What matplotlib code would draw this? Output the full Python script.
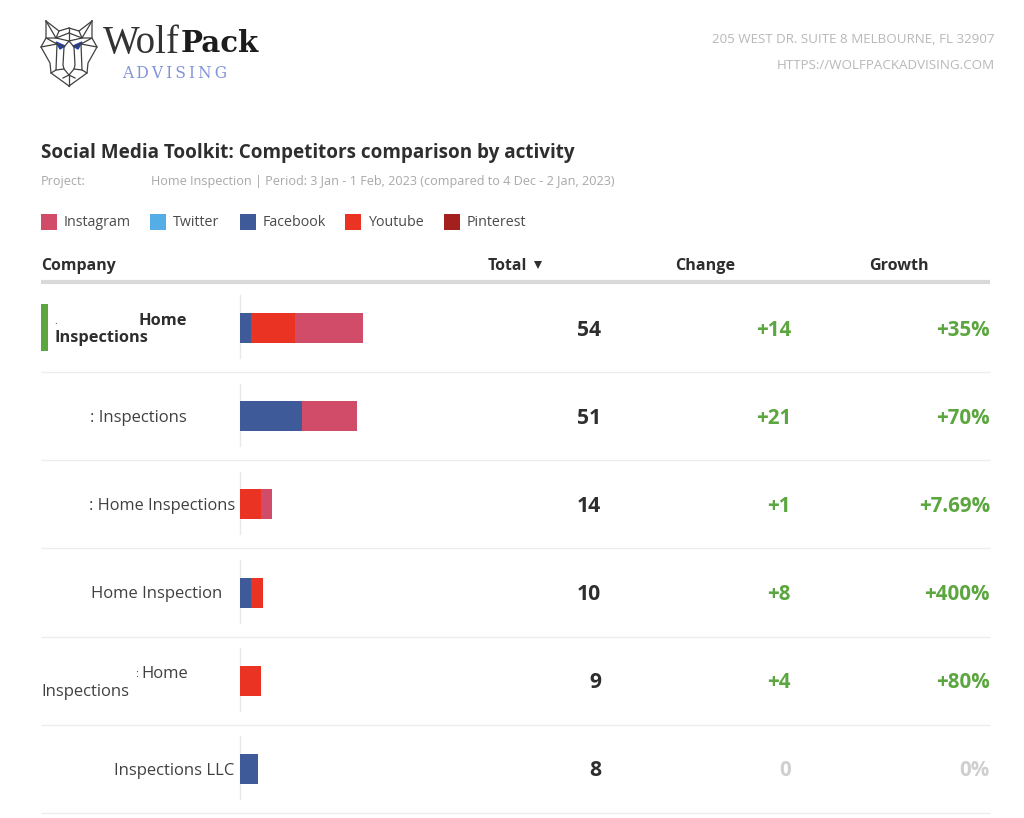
import matplotlib
matplotlib.use("Agg")
import matplotlib.pyplot as plt
from matplotlib.patches import Rectangle, Polygon

plt.rcParams['font.family'] = ['Open Sans', 'DejaVu Sans']

# Data
series = ["Instagram", "Twitter", "Facebook", "Youtube", "Pinterest"]
colors = ["#d14c68", "#55ade6", "#3f5a98", "#ea3323", "#a3201f"]
facebook = [5, 27, 0, 5, 0, 8]
youtube = [19, 0, 9, 5, 9, 0]
instagram = [30, 24, 5, 0, 0, 0]
totals = ["54", "51", "14", "10", "9", "8"]
changes = ["+14", "+21", "+1", "+8", "+4", "0"]
growth = ["+35%", "+70%", "+7.69%", "+400%", "+80%", "0%"]

DARK = "#2e2e2e"
GREEN = "#5ca640"
ZERO = "#cfcfcf"

fig = plt.figure(figsize=(10.24, 8.18), dpi=100)
ax = fig.add_axes([0, 0, 1, 1])
ax.set_xlim(0, 1024)
ax.set_ylim(818, 0)
ax.axis("off")

# logo, wolf head as line work, left half mirrored
left_lines = [
    [(46, 21), (59, 31), (69, 28)],
    [(46, 21), (46, 38), (41, 47), (50, 63), (51, 73), (69, 86)],
    [(46, 21), (56, 38), (46, 38), (57, 44), (64, 47), (63, 65), (64, 69), (69, 75)],
    [(59, 31), (56, 38), (69, 33)],
    [(56, 38), (69, 41), (64, 47)],
    [(41, 47), (57, 44), (56, 70), (51, 73)],
    [(56, 70), (64, 69)],
    [(63, 78), (69, 75)],
]
for pts in left_lines:
    xs = [p[0] for p in pts]
    ys = [p[1] for p in pts]
    ax.plot(xs, ys, color="#404040", lw=0.9)
    ax.plot([138 - x for x in xs], ys, color="#404040", lw=0.9)
ax.plot([69, 69], [28, 41], color="#404040", lw=0.9)
ax.plot([69, 69], [75, 86], color="#404040", lw=0.9)
ax.add_patch(Polygon([(56, 42), (65, 46), (60, 49)], color="#2340a8"))
ax.add_patch(Polygon([(82, 42), (73, 46), (78, 49)], color="#2340a8"))
ax.text(103, 43, "Wolf", family="Liberation Serif", fontsize=28, color="#333333", va="center")
ax.text(181, 43, "Pack", family="DejaVu Serif", fontweight="bold", fontsize=21, color="#1c1c1c", va="center")
ax.text(122, 73.5, "A\u2009D\u2009V\u2009I\u2009S\u2009I\u2009N\u2009G", family="DejaVu Serif", fontsize=11.2, color="#8093d8", va="center")

# address
ax.text(995, 39.5, "205 WEST DR. SUITE 8 MELBOURNE, FL 32907", ha="right", va="center", fontsize=9.65, color="#b8b8b8")
ax.text(995, 65.5, "HTTPS://WOLFPACKADVISING.COM", ha="right", va="center", fontsize=9.65, color="#b8b8b8")

# title block
ax.text(41, 153, "Social Media Toolkit: Competitors comparison by activity",
        fontsize=13.6, fontweight="bold", color=DARK, va="center")
ax.text(41, 182, "Project:", fontsize=9.1, color="#a8a8a8", va="center")
ax.text(151, 182, "Home Inspection | Period: 3 Jan - 1 Feb, 2023 (compared to 4 Dec - 2 Jan, 2023)",
        fontsize=9.1, color="#a8a8a8", va="center")

# legend
legend_x = [41, 150, 240, 345, 444]
for name, col, x in zip(series, colors, legend_x):
    ax.add_patch(Rectangle((x, 214), 16, 16, color=col, lw=0))
    ax.text(x + 23, 222, name, fontsize=10.3, color="#4a4a4a", va="center")

# table header
ax.text(41, 266.5, "Company", fontsize=11.4, fontweight="bold", color=DARK, va="center")
ax.text(488, 266.5, "Total", fontsize=11.4, fontweight="bold", color=DARK, va="center")
ax.plot([538], [264.5], marker="v", ms=5.5, color=DARK, mew=0)
ax.text(735, 266.5, "Change", fontsize=11.6, fontweight="bold", color=DARK, va="center", ha="right")
ax.text(929, 266.5, "Growth", fontsize=11.6, fontweight="bold", color=DARK, va="center", ha="right")
ax.plot([41, 990], [282, 282], color="#d9d9d9", lw=3, solid_capstyle="butt")

# row rules
row_y = [328, 416, 504, 592, 681, 769]
for y in [371.5, 460, 548, 637, 725, 813]:
    ax.plot([41, 990], [y, y], color="#ececec", lw=1, solid_capstyle="butt")

# company names, partly blanked out in the source
NAME = "#404040"
ax.add_patch(Rectangle((41, 304), 7, 47, color=GREEN, lw=0))
ax.text(54, 321, ".", fontsize=7, color=NAME, va="center")
ax.text(187, 321, "Home", fontsize=11.8, fontweight="bold", color=DARK, ha="right", va="center")
ax.text(54, 338.5, "Inspections", fontsize=11.8, fontweight="bold", color=DARK, va="center")
ax.text(187, 417.5, ": Inspections", fontsize=12, color=NAME, ha="right", va="center")
ax.text(235, 505.5, ": Home Inspections", fontsize=11.8, color=NAME, ha="right", va="center")
ax.text(222, 594, "Home Inspection", fontsize=12, color=NAME, ha="right", va="center")
ax.text(188, 674.5, "Home", fontsize=12, color=NAME, ha="right", va="center")
ax.text(135, 674.5, ":", fontsize=8, color=NAME, va="center")
ax.text(41, 691.5, "Inspections", fontsize=12, color=NAME, va="center")
ax.text(234, 771, "Inspections LLC", fontsize=12, color=NAME, ha="right", va="center")

# numeric columns
for y, t, c, g in zip(row_y, totals, changes, growth):
    col = ZERO if c == "0" else GREEN
    ax.text(601, y + 2, t, fontsize=15.2, fontweight="bold", color=DARK, ha="right", va="center")
    ax.text(791, y + 2, c, fontsize=14.8, fontweight="bold", color=col, ha="right", va="center")
    ax.text(990, y + 2, g, fontsize=14.8, fontweight="bold", color=col, ha="right", va="center")

# stacked bars, about 2.285 px per unit, 6 rows of 88.2 px from y=284
bar_ax = fig.add_axes([240 / 1024, (818 - 813) / 818, 300 / 1024, 529 / 818])
bar_ax.patch.set_alpha(0)
rows = list(range(len(totals)))
left = [0] * len(totals)
for vals, name in [(facebook, "Facebook"), (youtube, "Youtube"), (instagram, "Instagram")]:
    bar_ax.barh(rows, vals, left=left, height=0.34, color=colors[series.index(name)], lw=0)
    left = [a + b for a, b in zip(left, vals)]
for r in rows:
    bar_ax.plot([0, 0], [r - 0.37, r + 0.34], color="#e8e8e8", lw=1, zorder=0, clip_on=False)
bar_ax.set_xlim(0, 300 / 2.285)
bar_ax.set_ylim(5.5, -0.5)
bar_ax.axis("off")

fig.savefig("out.png", dpi=100)
